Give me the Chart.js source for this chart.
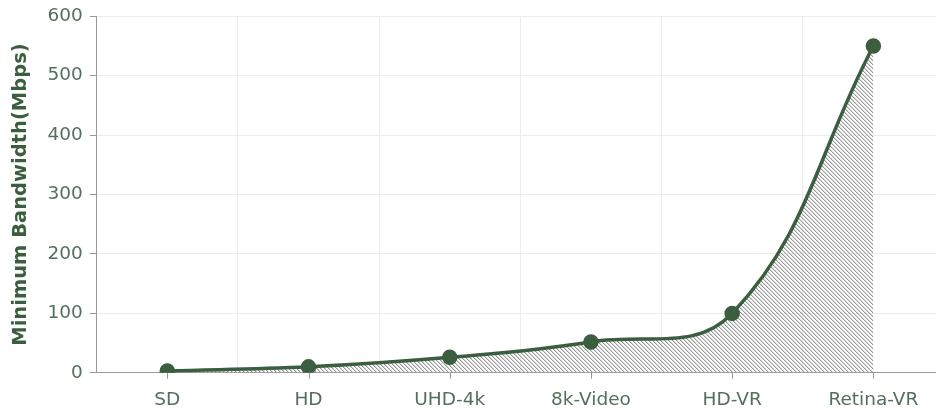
<!DOCTYPE html>
<html>
<head>
<meta charset="utf-8">
<script src="https://cdn.jsdelivr.net/npm/chart.js@4/dist/chart.umd.min.js"></script>
<style>
  html, body { margin: 0; padding: 0; background: #fff; overflow: hidden; }
  #myChart { display: block; }
</style>
</head>
<body>
<canvas id="myChart" width="936" height="412"></canvas>
<script>
const labels = ['SD', 'HD', 'UHD-4k', '8k-Video', 'HD-VR', 'Retina-VR'];
const bandwidth = [3, 10, 26, 52, 100, 550];
const yTicks = [0, 100, 200, 300, 400, 500, 600];

const ctx = document.getElementById('myChart').getContext('2d');

// hatch pattern for the area under the curve
const tile = document.createElement('canvas');
tile.width = 4;
tile.height = 4;
const t = tile.getContext('2d');
for (let i = 0; i < 4; i++) {
    t.fillStyle = '#959595';
    t.fillRect(i, i, 1, 1);
    t.fillStyle = '#d8d8d8';
    t.fillRect((i + 1) % 4, i, 1, 1);
}
const hatch = ctx.createPattern(tile, 'repeat');

const green = '#3b5e3e';
const tickColor = '#53705c';

// the original plot runs a few px past the right edge of the picture
const overhang = {
    id: 'overhang',
    afterLayout(chart) {
        const x = chart.scales.x;
        const extra = 944 - x.right;
        x.right += extra;
        x.width += extra;
        x.configure();
        chart.chartArea.right += extra;
        chart.chartArea.width += extra;
    }
};

// little tick marks under the x axis at category centres
const centreTicks = {
    id: 'centreTicks',
    afterDraw(chart) {
        const x = chart.scales.x;
        const c = chart.ctx;
        c.save();
        c.strokeStyle = '#999';
        c.lineWidth = 1;
        labels.forEach((l, i) => {
            const px = Math.round(x.getPixelForValue(i)) + 0.5;
            c.beginPath();
            c.moveTo(px, x.top);
            c.lineTo(px, x.top + 6);
            c.stroke();
        });
        c.restore();
    }
};

const myChart = new Chart(ctx, {
    type: 'line',
    data: {
        labels,
        datasets: [{
            data: bandwidth,
            fill: 'origin',
            backgroundColor: hatch,
            borderColor: green,
            borderWidth: 3.5,
            pointBackgroundColor: green,
            pointBorderColor: green,
            pointRadius: 6,
            tension: 0.4,
        }]
    },
    options: {
        responsive: false,
        animation: false,
        layout: { autoPadding: false, padding: { top: 0, left: 9, right: 0, bottom: 0 } },
        plugins: { legend: { display: false }, tooltip: { enabled: false } },
        scales: {
            x: {
                offset: true,
                grid: { offset: true, color: '#ececec', tickColor: 'rgba(0,0,0,0)', tickLength: 15 },
                border: { color: '#999' },
                ticks: {
                    color: tickColor,
                    padding: 1,
                    font: { family: 'DejaVu Sans', size: 18.5 },
                    maxRotation: 0,
                    autoSkip: false,
                }
            },
            y: {
                min: 0,
                max: 600,
                afterBuildTicks: (axis) => { axis.ticks = yTicks.map(v => ({ value: v })); },
                grid: { color: '#ececec', tickColor: '#999', tickLength: 7 },
                border: { color: '#999' },
                ticks: {
                    color: tickColor,
                    padding: 7,
                    font: { family: 'DejaVu Sans', size: 18.5, lineHeight: 1 },
                },
                title: {
                    display: true,
                    text: 'Minimum Bandwidth(Mbps)',
                    color: green,
                    font: { family: 'DejaVu Sans', size: 19.5, weight: 'bold' },
                    padding: { top: 0, bottom: 8 },
                }
            }
        }
    },
    plugins: [overhang, centreTicks]
});
</script>
</body>
</html>
